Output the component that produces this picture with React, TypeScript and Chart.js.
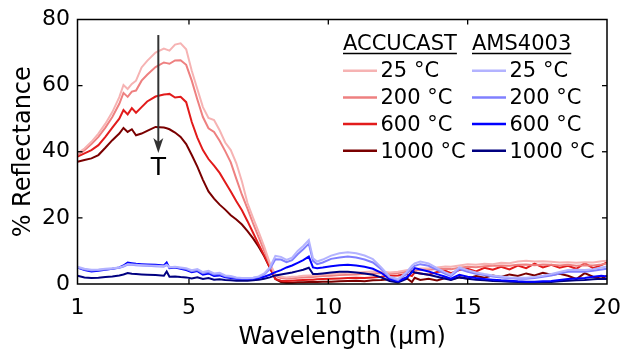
import React, { useEffect, useRef } from 'react';
import { Chart, registerables } from 'chart.js';
Chart.register(...registerables);

const wavelengths = [
  1, 1.25, 1.5, 1.75, 2, 2.25, 2.5, 2.65, 2.8, 2.95,
  3.1, 3.3, 3.5, 3.8, 4.1, 4.2, 4.3, 4.5, 4.7, 4.9,
  5.1, 5.3, 5.5, 5.7, 5.9, 6.1, 6.3, 6.5, 6.7, 6.9,
  7.1, 7.3, 7.5, 7.7, 7.9, 8.1, 8.3, 8.5, 8.7, 8.9,
  9.1, 9.3, 9.45, 9.6, 9.8, 10.1, 10.4, 10.7, 11.0, 11.3,
  11.6, 11.9, 12.2, 12.5, 12.8, 13.0, 13.1, 13.3, 13.6, 13.9,
  14.2, 14.4, 14.7, 15.0, 15.3, 15.6, 15.9, 16.2, 16.5, 16.8,
  17.1, 17.4, 17.7, 18.0, 18.3, 18.6, 18.9, 19.2, 19.5, 19.8,
  20,
];

const accucast25 = [
  39.5, 41, 43, 45.5, 48.5, 52, 56.5, 60.2, 59, 60.5,
  61.5, 65.5, 67.5, 70, 71.2, 70.9, 70.6, 72.4, 72.8, 71,
  64.5, 59, 53.5, 50.2, 49.6, 46.5, 42.8, 40.5, 36.5, 31,
  24.5, 20, 15.8, 11.3, 6.3, 2.8, 2.2, 2, 2.2, 2.3,
  2.5, 2.6, 2.6, 2.8, 2.9, 3, 3.2, 3.4, 3.4, 3.6,
  3.8, 3.8, 3.5, 3.7, 4.2, 4.4, 4.6, 4.7, 4.8, 5,
  5.3, 5.2, 5.6, 6, 5.8, 6.1, 6, 6.4, 6.3, 6.8,
  7, 6.8, 6.9, 6.7, 6.5, 6.6, 6.4, 6.6, 6.5, 6.9,
  7,
];
const accucast200 = [
  39, 40.5, 42.3, 44.5, 47.3, 50.5, 54.5, 57.8, 56.6, 58.2,
  58.5, 61.5, 63.3, 65.6, 67, 66.8, 66.6, 67.6, 67.7, 66.3,
  61.5, 55.8, 50.5, 47.1, 46, 43.3, 40.2, 36.8, 31.8, 27,
  22.8, 18.3, 14.2, 10, 6, 2.4, 1.8, 1.6, 1.7, 1.9,
  2, 2.1, 2.1, 2.3, 2.4, 2.5, 2.7, 2.8, 2.9, 3.1,
  3.2, 3.3, 3, 3.3, 3.7, 3.9, 4.1, 4.2, 4.3, 4.5,
  4.6, 4.5, 4.9, 5.2, 5.1, 5.4, 5.5, 5.6, 5.5, 5.8,
  5.9, 5.7, 5.9, 5.8, 5.6, 5.8, 5.5, 5.7, 5.6, 5.9,
  6.2,
];
const accucast600 = [
  38.5, 39.5, 40.5, 42, 44.5, 47.3, 50, 52.6, 51.3, 53.2,
  51.8, 53.5, 55.2, 56.7, 57.3, 57.4, 57.5, 56.4, 56.6, 55,
  49, 44.3, 40.5, 37.8, 35.8, 33.6, 30.8, 28, 25, 22.3,
  19, 15.5, 12, 8.6, 5, 1.5, 1, 0.9, 1, 1.1,
  1.2, 1.3, 1.3, 1.4, 1.5, 1.6, 1.7, 1.8, 1.9, 1.8,
  2, 2.2, 2.5, 2.6, 3, 2.4, 3.5, 3.2, 2.8, 3.6,
  4, 3.3, 4.2, 4.6, 3.8, 4.9, 4.3, 5.2, 4.4, 5.6,
  4.8, 6.2, 5, 5.8, 4.9, 5.5, 4.6, 6.3, 4.8, 5.7,
  6.5,
];
const accucast1000 = [
  37, 37.5, 38, 39, 41.2, 43.5, 45.5, 47.2, 46, 46.8,
  45, 45.5, 46.3, 47.5, 47.3, 47.1, 46.8, 45.8, 44.5, 42.3,
  39, 35.5, 31.5, 28, 25.8, 24, 22.5, 20.8, 19.5, 18,
  16, 13.8, 11.3, 8.4, 5, 1.5, 0.6, 0.4, 0.4, 0.5,
  0.5, 0.6, 0.6, 0.6, 0.7, 0.7, 0.8, 0.9, 1, 0.8,
  1.1, 1.2, 1.4, 1.3, 1.8, 0.6, 1.9, 1.2, 1.6, 1.1,
  1.8, 1.4, 2, 1.7, 2.4, 1.9, 2.6, 2.1, 2.9, 2.4,
  3.2, 2.6, 3.4, 2.8, 3.1, 2.5, 1.5, 3.3, 2.2, 1.6,
  2.5,
];

const ams25 = [
  5.2, 4.6, 4.3, 4.4, 4.6, 4.8, 5, 5.4, 6, 5.9,
  5.8, 5.7, 5.6, 5.5, 5.4, 5.8, 5.1, 5.2, 5, 4.8,
  4.2, 4.5, 3.6, 4, 3.2, 3.4, 2.6, 2.4, 2, 1.8,
  1.8, 1.9, 2.3, 3.2, 5, 8.5, 8.2, 7.3, 8, 10,
  11.5, 13.3, 7.8, 6.8, 7.4, 8.6, 9.3, 9.6, 9.3, 8.6,
  7.5, 5, 2.2, 1.5, 3.5, 5.5, 6.2, 6.8, 6.2, 4.8,
  3.5, 2.8, 5, 4.2, 3.5, 3, 2.6, 2.3, 2, 1.9,
  1.9, 2.1, 2.5, 3, 3.6, 4.2, 4.3, 4.2, 4.5, 5,
  5.3,
];
const ams200 = [
  5, 4.4, 4.1, 4.2, 4.4, 4.6, 4.9, 5.3, 5.9, 5.8,
  5.7, 5.6, 5.5, 5.4, 5.3, 5.8, 5, 5.1, 4.8, 4.5,
  3.9, 4.2, 3.3, 3.6, 2.9, 3, 2.3, 2.1, 1.8, 1.7,
  1.7, 1.8, 2.1, 2.9, 4.5, 7.5, 7.4, 6.6, 7.2, 9,
  10.5, 12.2, 7, 6, 6.5, 7.6, 8, 8.3, 8, 7.4,
  6.5, 4.5, 2, 1.2, 3, 4.8, 5.5, 6, 5.5, 4.3,
  3.1, 2.4, 4.5, 3.7, 3.1, 2.7, 2.3, 2, 1.8, 1.6,
  1.6, 1.8, 2.2, 2.6, 3.2, 3.7, 3.8, 3.7, 4, 4.4,
  4.6,
];
const ams600 = [
  5, 4.2, 3.8, 4, 4.3, 4.6, 5, 5.6, 6.5, 6.3,
  6.1, 6, 5.9, 5.8, 5.6, 6.5, 4.8, 5, 4.6, 4.2,
  3.6, 3.9, 2.8, 3.2, 2.4, 2.6, 2, 1.8, 1.6, 1.5,
  1.5, 1.6, 1.8, 2.2, 2.8, 3.6, 4.2, 5, 5.6, 6.4,
  7.2, 8.3, 5, 4.8, 5, 5.4, 5.7, 5.8, 5.6, 5.2,
  4.6, 3.4, 1.5, 0.8, 2, 3.5, 4.8, 4.4, 3.8, 3,
  2.2, 1.6, 2.8, 2.2, 1.8, 1.5, 1.3, 1.1, 1, 0.8,
  0.7, 0.7, 0.8, 0.9, 1.2, 1.5, 1.7, 1.8, 2.2, 2.5,
  2.3,
];
const ams1000 = [
  2.5, 2, 1.8, 1.9, 2.1, 2.3, 2.6, 2.9, 3.3, 3.1,
  3, 2.9, 2.8, 2.7, 2.5, 3.8, 2.2, 2.3, 2.1, 2,
  1.7, 2, 1.5, 1.8, 1.3, 1.4, 1.2, 1.1, 1, 1,
  1, 1.1, 1.3, 1.6, 2, 2.6, 2.9, 3.2, 3.5, 3.9,
  4.3, 4.9, 3, 3, 3.2, 3.5, 3.7, 3.7, 3.5, 3.2,
  2.8, 2, 0.9, 0.5, 1.5, 3.8, 3.5, 3.2, 2.8, 2.2,
  1.6, 1.2, 2, 1.6, 1.3, 1.1, 0.9, 0.8, 0.7, 0.6,
  0.5, 0.5, 0.6, 0.6, 0.8, 1, 1.1, 1.2, 1.4, 1.6,
  1.5,
];

const xTicks = [1, 5, 10, 15, 20];
const yTicks = [0, 20, 40, 60, 80];
const tempLabels = ['25 °C', '200 °C', '600 °C', '1000 °C'];
const groupNames = ['ACCUCAST', 'AMS4003'];
const redColors = ['#f6b3b3', '#ee8080', '#e21b1b', '#7a0000'];
const blueColors = ['#b3b3ff', '#8080ff', '#0000ff', '#000080'];
const arrowX = 3.9;
const arrowTopY = 75.3;
const arrowTipY = 39.6;
const arrowLabelY = 35;

const FONT = '"DejaVu Sans", Verdana, sans-serif';

export default function App() {
  const ref = useRef<HTMLCanvasElement>(null);
  useEffect(() => {
    document.body.style.margin = '0';
    const canvas = ref.current!;
    const reds = [accucast25, accucast200, accucast600, accucast1000];
    const blues = [ams25, ams200, ams600, ams1000];
    const mk = (vals: number[], color: string, label: string) => ({
      label,
      data: wavelengths.map((x, i) => ({ x, y: vals[i] })),
      borderColor: color,
      backgroundColor: color,
      borderWidth: 2,
      pointRadius: 0,
      tension: 0,
      fill: false,
    });
    const datasets = [
      ...blues.map((v, i) => mk(v, blueColors[i], 'AMS4003 ' + tempLabels[i])),
      ...reds.map((v, i) => mk(v, redColors[i], 'ACCUCAST ' + tempLabels[i])),
    ];

    const overlay = {
      id: 'overlay',
      afterDraw(chart: any) {
        const { ctx, chartArea: a, scales } = chart;
        const x = scales.x;
        const y = scales.y;
        ctx.save();
        ctx.strokeStyle = '#000';
        ctx.lineWidth = 1.5;
        ctx.strokeRect(a.left, a.top, a.right - a.left, a.bottom - a.top);
        ctx.lineWidth = 1.3;
        const seg = (x1: number, y1: number, x2: number, y2: number) => {
          ctx.beginPath();
          ctx.moveTo(x1, y1);
          ctx.lineTo(x2, y2);
          ctx.stroke();
        };
        xTicks.slice(1, -1).forEach((v) => {
          const p = x.getPixelForValue(v);
          seg(p, a.bottom, p, a.bottom - 5);
          seg(p, a.top, p, a.top + 5);
        });
        yTicks.slice(1, -1).forEach((v) => {
          const p = y.getPixelForValue(v);
          seg(a.left, p, a.left + 5, p);
          seg(a.right, p, a.right - 5, p);
        });

        // arrow
        const ax = x.getPixelForValue(arrowX);
        const aTop = y.getPixelForValue(arrowTopY);
        const aTip = y.getPixelForValue(arrowTipY);
        ctx.strokeStyle = '#333';
        ctx.fillStyle = '#333';
        ctx.lineWidth = 2;
        seg(ax, aTop, ax, aTip - 10);
        ctx.beginPath();
        ctx.moveTo(ax, aTip);
        ctx.lineTo(ax - 5, aTip - 15);
        ctx.lineTo(ax, aTip - 11);
        ctx.lineTo(ax + 5, aTip - 15);
        ctx.closePath();
        ctx.fill();
        ctx.fillStyle = '#000';
        ctx.font = `25px ${FONT}`;
        ctx.textAlign = 'center';
        ctx.textBaseline = 'middle';
        ctx.fillText('T', ax, y.getPixelForValue(arrowLabelY));

        // legend
        ctx.font = `21px ${FONT}`;
        ctx.textAlign = 'left';
        ctx.textBaseline = 'middle';
        const cols = [343, 472];
        const colors = [redColors, blueColors];
        cols.forEach((cx, c) => {
          ctx.fillStyle = '#000';
          ctx.fillText(groupNames[c], cx, 45);
          const w = ctx.measureText(groupNames[c]).width;
          ctx.strokeStyle = '#000';
          ctx.lineWidth = 1.3;
          seg(cx, 53.5, cx + w, 53.5);
          tempLabels.forEach((t, r) => {
            const ry = 72 + r * 26.7;
            ctx.strokeStyle = colors[c][r];
            ctx.lineWidth = 2.5;
            seg(cx, ry - 1.3, cx + 34, ry - 1.3);
            ctx.fillStyle = '#000';
            ctx.fillText(t, cx + 37.5, ry);
          });
        });
        ctx.restore();
      },
    };

    const chart = new Chart(canvas, {
      type: 'line',
      data: { datasets },
      options: {
        animation: false,
        responsive: false,
        devicePixelRatio: 1,
        layout: { padding: { top: 19.5, right: 13, left: 0, bottom: 0 } },
        plugins: { legend: { display: false }, tooltip: { enabled: false } },
        scales: {
          x: {
            type: 'linear',
            min: 1,
            max: 20,
            afterBuildTicks: (s: any) => {
              s.ticks = xTicks.map((v) => ({ value: v }));
            },
            afterFit: (s: any) => {
              s.height = 67;
              s.paddingLeft = 0;
              s.paddingRight = 0;
            },
            grid: { display: false, drawTicks: false },
            border: { display: false },
            ticks: {
              color: '#000',
              font: { family: FONT, size: 22 },
              padding: 11,
              maxRotation: 0,
              autoSkip: false,
            },
            title: {
              display: true,
              text: 'Wavelength (µm)',
              color: '#000',
              font: { family: FONT, size: 24, lineHeight: 1 },
              padding: { top: 0, bottom: 1.5 },
            },
          },
          y: {
            min: 0,
            max: 80,
            afterBuildTicks: (s: any) => {
              s.ticks = yTicks.map((v) => ({ value: v }));
            },
            afterFit: (s: any) => {
              s.width = 77.5;
              s.paddingTop = 0;
              s.paddingBottom = 0;
            },
            grid: { display: false, drawTicks: false },
            border: { display: false },
            ticks: {
              color: '#000',
              font: { family: FONT, size: 22 },
              padding: 7.5,
              autoSkip: false,
            },
            title: {
              display: true,
              text: '% Reflectance',
              color: '#000',
              font: { family: FONT, size: 24, lineHeight: 1 },
              padding: { top: 12, bottom: 0 },
            },
          },
        },
      },
      plugins: [overlay],
    } as any);
    return () => chart.destroy();
  }, []);
  return (
    <div style={{ width: 620, height: 351 }}>
      <canvas ref={ref} width={620} height={351} style={{ display: 'block' }} />
    </div>
  );
}
